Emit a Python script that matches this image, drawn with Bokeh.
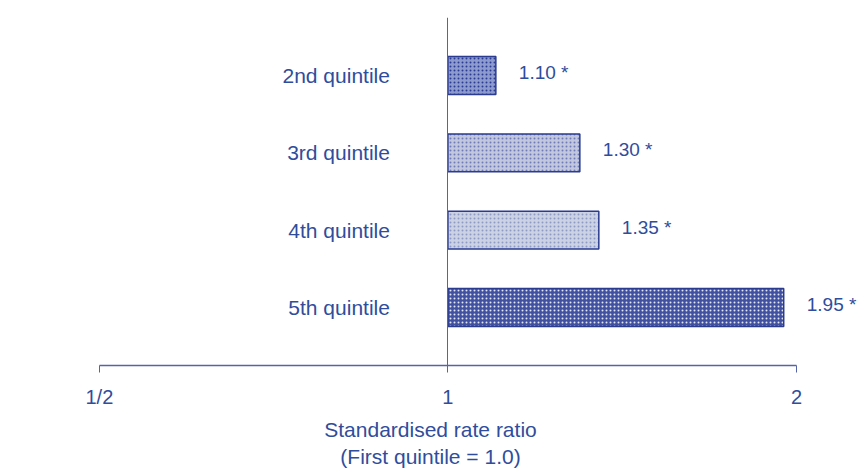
from bokeh.plotting import figure
from bokeh.models import FactorRange, Range1d, FixedTicker, ColumnDataSource
from bokeh.embed import file_html
from bokeh.resources import INLINE

# ---- data ----
categories = ["2nd quintile", "3rd quintile", "4th quintile", "5th quintile"]
ratios = [1.10, 1.30, 1.35, 1.95]
value_labels = ["1.10 *", "1.30 *", "1.35 *", "1.95 *"]
x_ticks = [0.5, 1, 2]
x_tick_labels = ["1/2", "1", "2"]
axis_title = "Standardised rate ratio\n(First quintile = 1.0)"

# ---- style ----
FONT = "Liberation Sans"
TXT = "#2f4d9c"
AX = "#5564a6"
fills = ["#8d9ad0", "#c0c7df", "#cbd2e6", "#42519f"]
hatch_cols = ["#2b3c92", "#6f7cb6", "#8e99c4", "#e3e6f3"]

src = ColumnDataSource(dict(cat=categories, r=ratios, lab=value_labels,
                            fill=fills, hatch=hatch_cols, base=[1] * len(ratios)))

p = figure(width=860, height=471, output_backend="svg", toolbar_location=None,
           x_axis_type="log",
           x_range=Range1d(0.41072, 2.2717),
           y_range=FactorRange(factors=list(reversed(categories)), range_padding=0.125),
           min_border_left=0, min_border_right=0, min_border_top=17, min_border_bottom=100)
p.outline_line_color = None
p.xgrid.visible = False
p.ygrid.visible = False
p.background_fill_color = "white"
p.border_fill_color = "white"

p.hbar(y="cat", left="base", right="r", height=0.49, source=src,
       fill_color="fill", line_color="#2a3b90", line_width=1.5,
       hatch_pattern="dot", hatch_color="hatch", hatch_scale=4, hatch_weight=1.3)

p.text(x="r", y="cat", text="lab", source=src, x_offset=23, y_offset=-3,
       text_align="left", text_baseline="middle", text_color=TXT,
       text_font={"value": FONT}, text_font_size="19px")

# x axis
xa = p.xaxis[0]
xa.ticker = FixedTicker(ticks=x_ticks)
xa.major_label_overrides = {t: l for t, l in zip(x_ticks, x_tick_labels)}
xa.bounds = (x_ticks[0], x_ticks[-1])
xa.axis_line_color = AX
xa.axis_line_width = 1.3
xa.major_tick_line_color = AX
xa.major_tick_out = 7
xa.major_tick_in = 0
xa.minor_tick_line_color = None
xa.major_label_standoff = 13
xa.major_label_text_font = FONT
xa.major_label_text_font_size = "20px"
xa.major_label_text_color = TXT
xa.axis_label = axis_title
xa.axis_label_standoff = 7
xa.axis_label_text_font = FONT
xa.axis_label_text_font_size = "21px"
xa.axis_label_text_font_style = "normal"
xa.axis_label_text_color = TXT

# y axis placed at ratio 1
ya = p.yaxis[0]
ya.fixed_location = 1
ya.axis_line_color = AX
ya.axis_line_width = 1.0
ya.major_tick_line_color = None
ya.major_tick_out = 0
ya.major_tick_in = 0
ya.major_label_standoff = 58
ya.major_label_text_font = FONT
ya.major_label_text_font_size = "21px"
ya.major_label_text_color = TXT

open("out.html", "w").write(file_html(p, INLINE))
